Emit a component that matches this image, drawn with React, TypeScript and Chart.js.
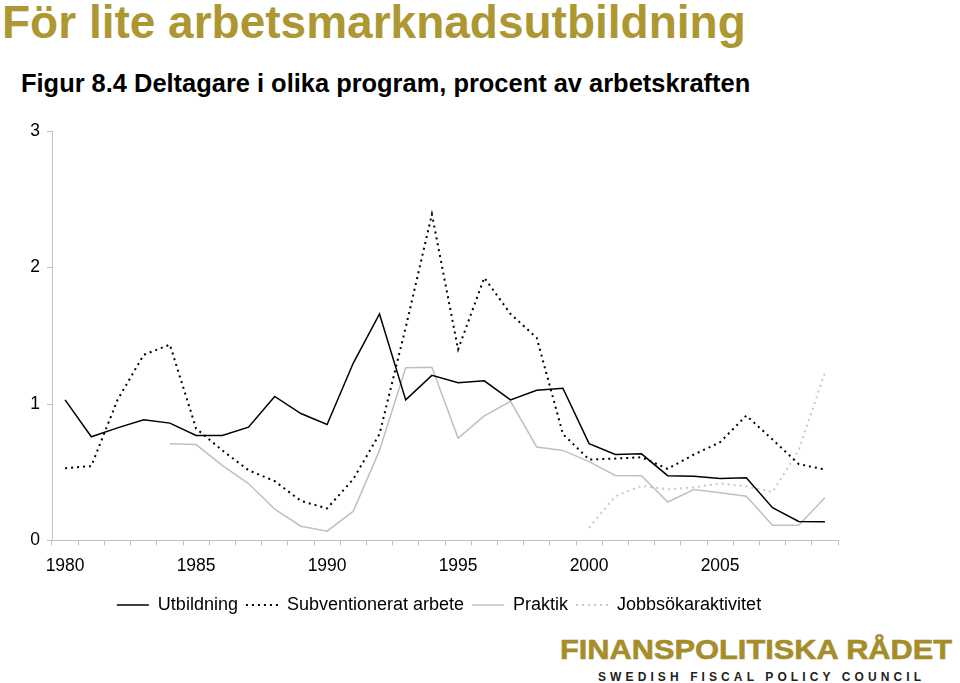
import React, { useEffect, useRef } from "react";
import { Chart, registerables } from "chart.js";

Chart.register(...registerables);
Chart.defaults.font.family = "'Liberation Sans', Arial, Helvetica, sans-serif";

// ---- Data ----
const years = [
  "1980", "1981", "1982", "1983", "1984", "1985", "1986", "1987", "1988", "1989",
  "1990", "1991", "1992", "1993", "1994", "1995", "1996", "1997", "1998", "1999",
  "2000", "2001", "2002", "2003", "2004", "2005", "2006", "2007", "2008", "2009",
];
const labeledYears = ["1980", "1985", "1990", "1995", "2000", "2005"];
const yTickValues = [0, 1, 2, 3];

const utbildning = [
  1.03, 0.76, 0.825, 0.885, 0.86, 0.77, 0.77, 0.83, 1.055, 0.93,
  0.85, 1.3, 1.66, 1.03, 1.21, 1.155, 1.17, 1.03, 1.1, 1.115,
  0.71, 0.63, 0.635, 0.475, 0.47, 0.455, 0.46, 0.24, 0.14, 0.137,
];
const subventionerat = [
  0.53, 0.545, 1.03, 1.36, 1.435, 0.82, 0.66, 0.515, 0.435, 0.29,
  0.235, 0.45, 0.78, 1.56, 2.39, 1.4, 1.925, 1.66, 1.485, 0.78,
  0.593, 0.6, 0.61, 0.525, 0.63, 0.72, 0.915, 0.74, 0.56, 0.52,
];
const praktik = [
  null, null, null, null, 0.708, 0.703, 0.55, 0.417, 0.23, 0.105,
  0.068, 0.215, 0.66, 1.265, 1.27, 0.75, 0.913, 1.02, 0.685, 0.66,
  0.578, 0.477, 0.475, 0.282, 0.374, 0.35, 0.325, 0.111, 0.111, 0.313,
];
const jobbsok = [
  null, null, null, null, null, null, null, null, null, null,
  null, null, null, null, null, null, null, null, null, null,
  0.093, 0.325, 0.4, 0.375, 0.39, 0.418, 0.397, 0.354, 0.66, 1.23,
];

const GOLD = "#ad9733";
const LOGO_GOLD = "#a68d2b";
const AXIS = "#c0c0c0";

const legendShift = {
  id: "legendShift",
  afterLayout(chart: any) {
    if (chart.legend) {
      chart.legend.left += 14;
    }
  },
};

export default function App() {
  const ref = useRef<HTMLCanvasElement>(null);

  useEffect(() => {
    const canvas = ref.current;
    if (!canvas) return;
    const chart = new Chart(canvas, {
      type: "line",
      data: {
        labels: years,
        datasets: [
          {
            label: "Utbildning",
            data: utbildning,
            borderColor: "#000000",
            backgroundColor: "#000000",
            borderWidth: 1.5,
            pointRadius: 0,
            tension: 0,
          },
          {
            label: "Subventionerat arbete",
            data: subventionerat,
            borderColor: "#000000",
            backgroundColor: "#000000",
            borderWidth: 2,
            borderDash: [2, 4],
            pointRadius: 0,
            tension: 0,
          },
          {
            label: "Praktik",
            data: praktik,
            borderColor: "#c0c0c0",
            backgroundColor: "#c0c0c0",
            borderWidth: 1.5,
            pointRadius: 0,
            tension: 0,
          },
          {
            label: "Jobbsökaraktivitet",
            data: jobbsok,
            borderColor: "#c8c8c8",
            backgroundColor: "#c8c8c8",
            borderWidth: 2,
            borderDash: [2, 4],
            pointRadius: 0,
            tension: 0,
          },
        ],
      },
      plugins: [legendShift],
      options: {
        animation: false,
        responsive: false,
        devicePixelRatio: 1,
        layout: { padding: { left: 26, right: 122, top: 31, bottom: 0 } },
        plugins: {
          legend: {
            position: "bottom",
            labels: {
              usePointStyle: true,
              pointStyle: "line",
              pointStyleWidth: 32,
              padding: 8,
              color: "#000000",
              font: { size: 18 },
              generateLabels: (c: any) => {
                const items = (Chart.defaults as any).plugins.legend.labels.generateLabels(c);
                items.forEach((it: any) => {
                  const ds: any = c.data.datasets[it.datasetIndex];
                  it.lineDash = ds.borderDash || [];
                  it.lineWidth = ds.borderWidth;
                  it.strokeStyle = ds.borderColor;
                  it.fillStyle = ds.borderColor;
                  it.pointStyle = "line";
                });
                return items;
              },
            },
          },
          tooltip: { enabled: false },
          title: { display: false },
        },
        scales: {
          x: {
            type: "category",
            offset: true,
            grid: {
              display: true,
              drawOnChartArea: false,
              drawTicks: true,
              tickLength: 5,
              offset: true,
              color: AXIS,
            },
            border: { display: true, color: AXIS, width: 1 },
            ticks: {
              autoSkip: false,
              maxRotation: 0,
              minRotation: 0,
              padding: 10,
              color: "#000000",
              font: { size: 17.5 },
              callback: (_v: any, index: number) =>
                labeledYears.includes(years[index]) ? years[index] : "",
            },
            afterFit: (s: any) => {
              s.height = 47.5;
            },
          },
          y: {
            min: 0,
            max: 3,
            afterBuildTicks: (s: any) => {
              s.ticks = yTickValues.map((v) => ({ value: v }));
            },
            grid: {
              drawOnChartArea: false,
              drawTicks: true,
              tickLength: 5,
              color: AXIS,
            },
            border: { display: true, color: AXIS, width: 1 },
            ticks: {
              padding: 7,
              color: "#000000",
              font: { size: 17.5 },
            },
            afterFit: (s: any) => {
              s.width = 26;
            },
          },
        },
      },
    } as any);
    return () => chart.destroy();
  }, []);

  const base: React.CSSProperties = {
    position: "absolute",
    whiteSpace: "nowrap",
    fontFamily: "'Liberation Sans', Arial, Helvetica, sans-serif",
    fontWeight: "bold",
    margin: 0,
  };

  return (
    <div
      style={{
        position: "absolute",
        left: 0,
        top: 0,
        width: 960,
        height: 683,
        background: "#ffffff",
        overflow: "hidden",
      }}
    >
      <div
        style={{
          ...base,
          left: 2,
          top: -1,
          fontSize: 46,
          lineHeight: "46px",
          color: GOLD,
        }}
      >
        För lite arbetsmarknadsutbildning
      </div>
      <div
        style={{
          ...base,
          left: 21,
          top: 70,
          fontSize: 26,
          lineHeight: "26px",
          color: "#000000",
          transform: "scaleX(0.978)",
          transformOrigin: "left top",
        }}
      >
        Figur 8.4 Deltagare i olika program, procent av arbetskraften
      </div>
      <canvas
        ref={ref}
        width={960}
        height={524}
        style={{ position: "absolute", left: 0, top: 100, width: 960, height: 524 }}
      />
      <div
        style={{
          ...base,
          left: 560,
          top: 635,
          fontSize: 28.5,
          lineHeight: "28px",
          color: LOGO_GOLD,
          transform: "scaleX(1.08)",
          transformOrigin: "left top",
          WebkitTextStroke: `0.6px ${LOGO_GOLD}`,
        }}
      >
        FINANSPOLITISKA RÅDET
      </div>
      <div
        style={{
          ...base,
          left: 598,
          top: 671,
          fontSize: 12,
          lineHeight: "12px",
          letterSpacing: "4.1px",
          color: "#222222",
        }}
      >
        SWEDISH FISCAL POLICY COUNCIL
      </div>
    </div>
  );
}
